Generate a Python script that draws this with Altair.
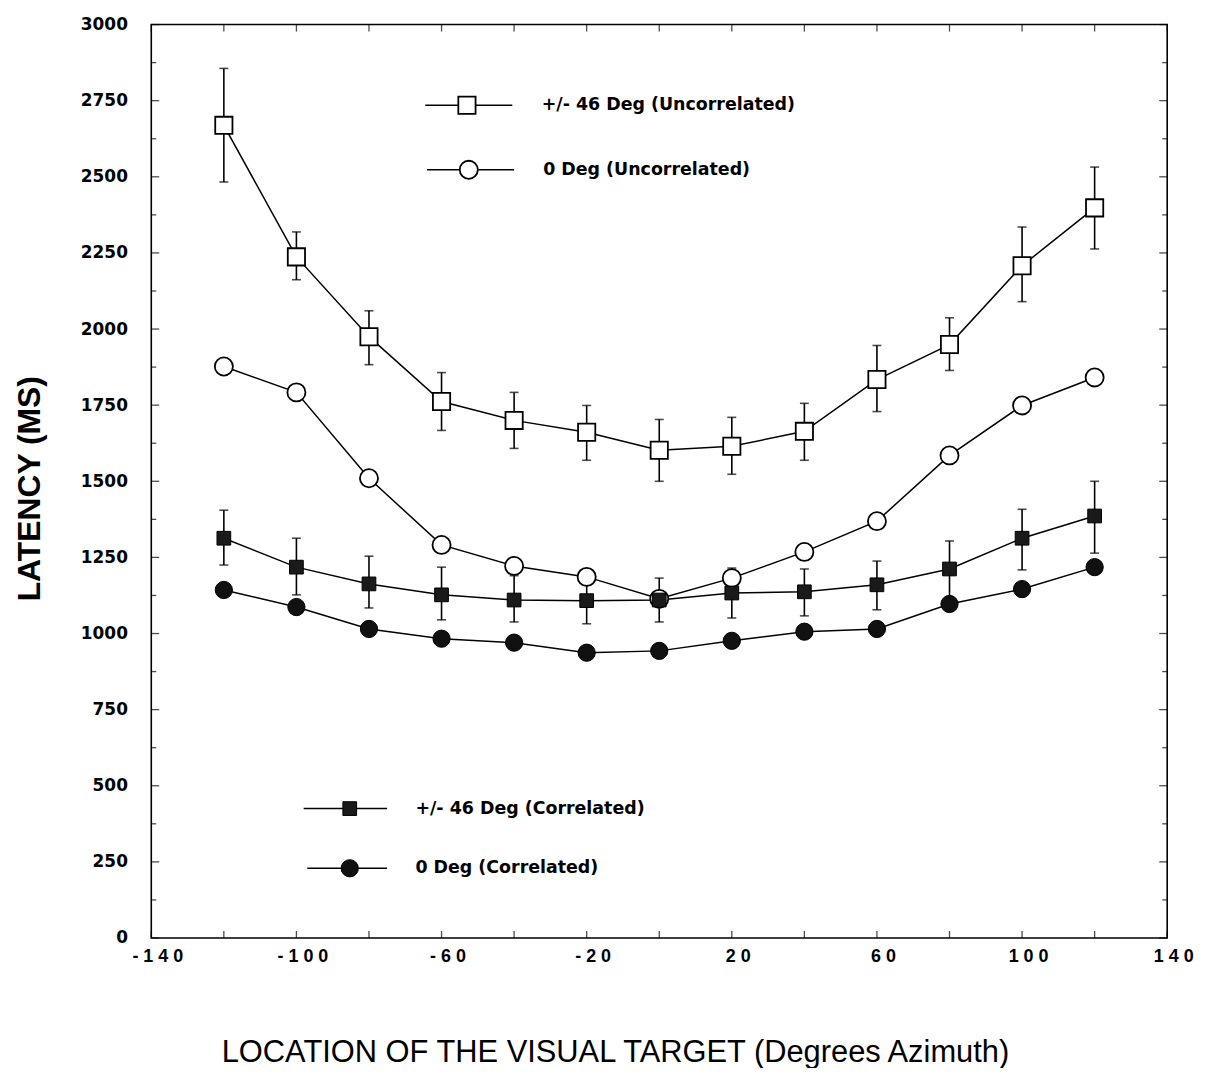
import altair as alt
import pandas as pd

# ---- data ----
azimuth = [-120, -100, -80, -60, -40, -20, 0, 20, 40, 60, 80, 100, 120]

s46_uncorr = [2669, 2237, 1975, 1762, 1700, 1661, 1602, 1615, 1664, 1834, 1949, 2208, 2398]
s46_uncorr_hi = [2856, 2319, 2060, 1857, 1792, 1749, 1703, 1710, 1756, 1946, 2037, 2335, 2532]
s46_uncorr_lo = [2483, 2162, 1883, 1667, 1608, 1569, 1500, 1523, 1569, 1729, 1864, 2090, 2263]

c0_uncorr = [1877, 1792, 1510, 1291, 1222, 1186, 1114, 1182, 1268, 1369, 1585, 1749, 1841]

s46_corr = [1313, 1218, 1163, 1127, 1110, 1108, 1110, 1133, 1137, 1160, 1212, 1313, 1386]
s46_corr_hi = [1405, 1313, 1254, 1218, 1190, 1185, 1182, 1215, 1212, 1238, 1304, 1408, 1500]
s46_corr_lo = [1225, 1127, 1084, 1045, 1038, 1032, 1038, 1051, 1058, 1078, 1101, 1209, 1264]

c0_corr = [1143, 1087, 1015, 983, 970, 937, 943, 976, 1006, 1015, 1097, 1146, 1218]

series_names = [
    "+/- 46 Deg (Uncorrelated)",
    "0 Deg (Uncorrelated)",
    "+/- 46 Deg (Correlated)",
    "0 Deg (Correlated)",
]

x_tick_labels = [-140, -100, -60, -20, 20, 60, 100, 140]
x_tick_all = list(range(-140, 141, 20))
y_tick_labels = list(range(0, 3001, 250))
y_tick_minor = list(range(125, 3000, 250))

# legend placement (in data units)
legend_series = series_names
legend_y = [2735, 2523, 425, 229]
legend_x0 = [-64.5, -64.0, -98.0, -97.0]
legend_x1 = [-40.5, -40.0, -75.0, -75.0]
legend_xs = [-53.0, -52.5, -85.3, -85.3]
legend_xt = [-32.4, -32.0, -67.2, -67.2]

# ---- tables ----
rows = []
for name, vals in zip(series_names, [s46_uncorr, c0_uncorr, s46_corr, c0_corr]):
    for a, v in zip(azimuth, vals):
        rows.append({"series": name, "az": a, "lat": v})
df = pd.DataFrame(rows)

err_rows = []
for name, lo, hi in [(series_names[0], s46_uncorr_lo, s46_uncorr_hi),
                     (series_names[2], s46_corr_lo, s46_corr_hi)]:
    for a, l, h in zip(azimuth, lo, hi):
        err_rows.append({"series": name, "az": a, "lo": l, "hi": h})
err = pd.DataFrame(err_rows)

leg = pd.DataFrame({"series": legend_series, "y": legend_y, "x0": legend_x0,
                    "x1": legend_x1, "xs": legend_xs, "xt": legend_xt})

W, H = 1021, 918
LBL_FONT = "DejaVu Sans"
TTL_FONT = "Liberation Sans"

xscale = alt.Scale(domain=[-140, 140], nice=False, zero=False)
yscale = alt.Scale(domain=[0, 3000], nice=False, zero=True)

X = alt.X("az:Q", scale=xscale, axis=alt.Axis(
    values=x_tick_labels, ticks=False, domain=False, grid=False, labelFlush=False,
    labelExpr="join(split(toString(datum.value), ''), ' ')",
    labelFont=TTL_FONT, labelFontSize=18, labelFontWeight="bold", labelColor="black",
    labelPadding=10, labelOffset=6,
    title="LOCATION OF THE VISUAL TARGET (Degrees Azimuth)",
    titleFont=TTL_FONT, titleFontSize=31, titleFontWeight="normal", titleColor="black",
    titleX=466, titleY=124, titleBaseline="alphabetic", titleAlign="center"))
Y = alt.Y("lat:Q", scale=yscale, axis=alt.Axis(
    values=y_tick_labels, ticks=False, domain=False, grid=False, labelFlush=False,
    format="d",
    labelFont=LBL_FONT, labelFontSize=17, labelFontWeight="bold", labelColor="black",
    labelPadding=24,
    title="LATENCY (MS)", titleFont=TTL_FONT, titleFontSize=32, titleFontWeight="bold",
    titleColor="black", titleX=-122, titleY=466, titleBaseline="middle", titleAngle=-90,
    titleAlign="center"))

base = alt.Chart(df)

lines = base.mark_line(color="black", strokeWidth=1.5).encode(
    x=X, y=Y, detail="series:N", order="az:Q")

eb = alt.Chart(err)
err_rule = eb.mark_rule(color="black", strokeWidth=1.6).encode(
    x=alt.X("az:Q", scale=xscale), y=alt.Y("lo:Q", scale=yscale), y2="hi:Q")
err_lo = eb.mark_tick(color="black", orient="horizontal", size=9, thickness=1.6).encode(
    x=alt.X("az:Q", scale=xscale), y=alt.Y("lo:Q", scale=yscale))
err_hi = eb.mark_tick(color="black", orient="horizontal", size=9, thickness=1.6).encode(
    x=alt.X("az:Q", scale=xscale), y=alt.Y("hi:Q", scale=yscale))


def symbols(data, xf, yf, series):
    c = alt.Chart(data).transform_filter(alt.datum.series == series)
    enc = dict(x=alt.X(xf, scale=xscale), y=alt.Y(yf, scale=yscale))
    if series == series_names[0]:
        return c.mark_point(shape="square", size=300, filled=True, fill="white",
                            stroke="black", strokeWidth=1.8, opacity=1).encode(**enc)
    if series == series_names[1]:
        return c.mark_point(shape="circle", size=330, filled=True, fill="white",
                            stroke="black", strokeWidth=1.8, opacity=1).encode(**enc)
    if series == series_names[2]:
        return c.mark_point(shape="square", size=190, filled=True, fill="#1a1a1a",
                            stroke="black", strokeWidth=1, opacity=1).encode(**enc)
    return c.mark_point(shape="circle", size=300, filled=True, fill="#111111",
                        stroke="black", strokeWidth=1, opacity=1).encode(**enc)


sym_layers = [symbols(df, "az:Q", "lat:Q", s) for s in series_names]

# legend
legc = alt.Chart(leg)
leg_line = legc.mark_rule(color="black", strokeWidth=1.5).encode(
    x=alt.X("x0:Q", scale=xscale), x2="x1:Q", y=alt.Y("y:Q", scale=yscale))
leg_syms = [symbols(leg, "xs:Q", "y:Q", s) for s in series_names]
leg_text = legc.mark_text(align="left", baseline="middle", font=LBL_FONT, fontSize=17.5,
                          fontWeight="bold", color="black").encode(
    x=alt.X("xt:Q", scale=xscale), y=alt.Y("y:Q", scale=yscale), text="series:N")

# inward axis ticks on all four sides
xt = pd.DataFrame({"v": x_tick_all})
ytM = pd.DataFrame({"v": y_tick_labels})
ytm = pd.DataFrame({"v": y_tick_minor})


def xticks(yval, off):
    return alt.Chart(xt).mark_tick(orient="vertical", size=7, thickness=1.3, color="black",
                                   yOffset=off).encode(
        x=alt.X("v:Q", scale=xscale), y=alt.YDatum(yval, scale=yscale))


def yticks(data, xval, size, sign):
    return alt.Chart(data).mark_tick(orient="horizontal", size=size, thickness=1.3,
                                     color="black", xOffset=sign * size / 2).encode(
        x=alt.XDatum(xval, scale=xscale), y=alt.Y("v:Q", scale=yscale))


tick_layers = [
    xticks(0, -3.5), xticks(3000, 3.5),
    yticks(ytM, -140, 8, 1), yticks(ytm, -140, 5, 1),
    yticks(ytM, 140, 8, -1), yticks(ytm, 140, 5, -1),
]

chart = alt.layer(
    lines, err_rule, err_lo, err_hi, *sym_layers,
    leg_line, *leg_syms, leg_text, *tick_layers
).properties(
    width=W, height=H,
    autosize=alt.AutoSizeParams(type="none"),
    padding={"left": 144, "top": 14, "right": 40, "bottom": 128},
    background="white",
).configure_view(stroke="black", strokeWidth=1.6)

chart.save("out.html", embed_options={"renderer": "svg", "actions": False})
